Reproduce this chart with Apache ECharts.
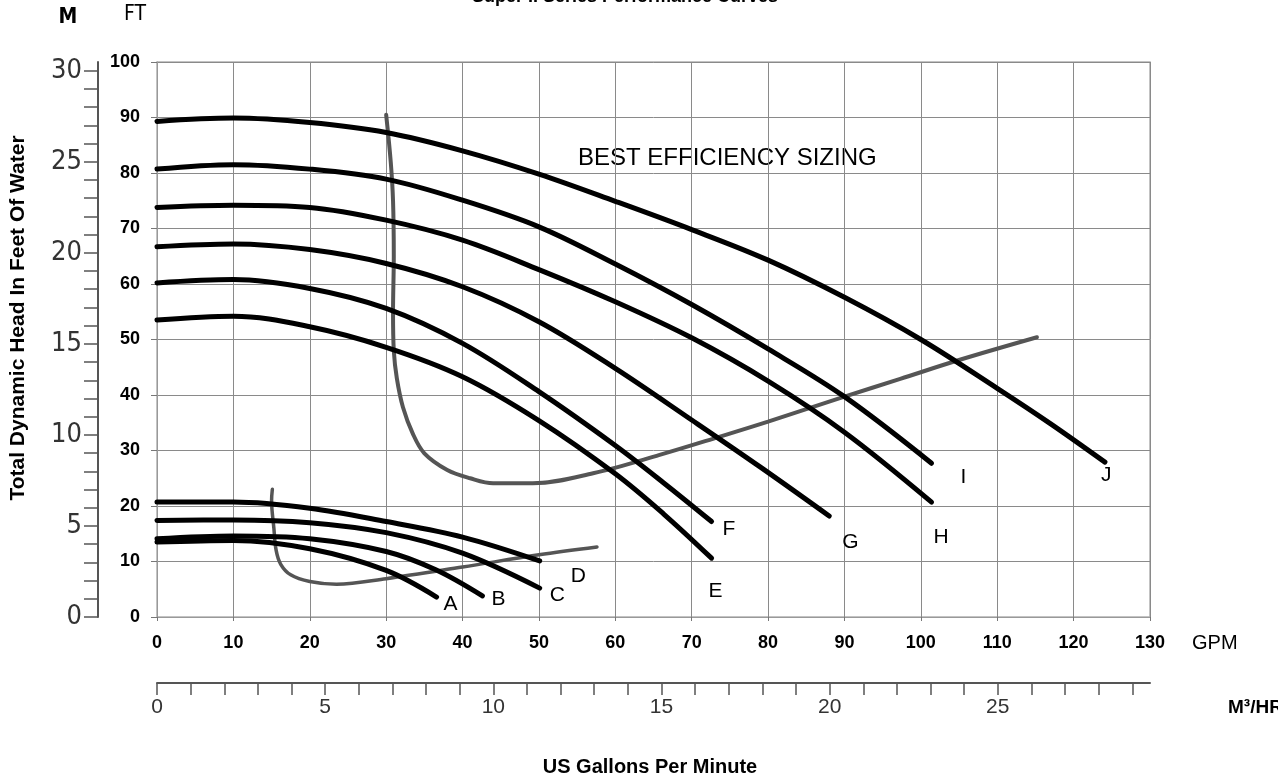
<!DOCTYPE html>
<html>
<head>
<meta charset="utf-8">
<script src="https://cdn.jsdelivr.net/npm/echarts@6/dist/echarts.min.js"></script>
<style>
html,body{margin:0;padding:0;background:#fff;}
#chart{width:1278px;height:782px;}
</style>
</head>
<body>
<div id="chart"></div>
<script>
// ---- data (GPM, feet of head) ----
const curveA = [[0,13.5],[10,13.8],[20,12.3],[30,8.4],[36.6,3.6]];
const curveB = [[0,14.1],[10,14.6],[20,14.1],[30,11.8],[36.5,8.5],[42.6,3.8]];
const curveC = [[0,17.4],[10,17.5],[20,17.0],[30,15.2],[40,11.5],[50.1,5.2]];
const curveD = [[0,20.7],[10,20.7],[20,19.6],[30,17.2],[40,14.4],[50.1,10.1]];
const curveE = [[0,53.5],[10,54.2],[20,52.3],[30,48.6],[40,43.3],[50,35.4],[60,25.8],[66.3,18.6],[72.6,10.6]];
const curveF = [[0,60.2],[10,60.8],[20,59.2],[30,55.6],[40,49.3],[50,40.6],[60,30.9],[66.3,24.2],[72.6,17.2]];
const curveG = [[0,66.7],[10,67.2],[20,66.2],[30,63.7],[40,59.5],[50,53.2],[60,44.8],[70,35.5],[79,27.0],[88,18.2]];
const curveH = [[0,73.8],[10,74.2],[20,73.8],[30,71.5],[40,67.9],[50,62.6],[60,56.8],[70,50.3],[80,42.5],[90,33.3],[101.4,20.7]];
const curveI = [[0,80.7],[10,81.5],[20,80.7],[30,78.9],[40,75.1],[50,70.3],[60,63.6],[70,56.3],[80,48.3],[90,39.7],[101.4,27.7]];
const curveJ = [[0,89.3],[10,89.9],[20,89.1],[30,87.3],[40,84.0],[50,79.8],[60,74.9],[70,69.8],[80,64.3],[90,57.6],[100,50.0],[110,41.2],[117,34.8],[124.1,27.9]];
const curveNames = ['A','B','C','D','E','F','G','H','I','J'];
const curves = [curveA,curveB,curveC,curveD,curveE,curveF,curveG,curveH,curveI,curveJ];

const effSmall = [[15.1,23.0],[15.0,21.0],[15.3,16.0],[15.6,12.0],[16.2,9.5],[17.5,7.6],[20,6.4],[23.5,5.9],[30,6.9],[40,9.0],[50,11.2],[57.6,12.6]];
const effLarge = [[30.0,90.5],[30.6,82],[30.9,75],[31.0,65],[30.9,55],[31.0,48],[31.4,43],[32.2,37.8],[33.5,33],[35.0,29.5],[38.0,26.5],[41,25],[44.0,24.1],[49.2,24.1],[57.1,25.9],[65.8,29.2],[73.7,32.5],[80,35.2],[90,39.7],[97.3,42.9],[105,46.3],[115.2,50.4]];

const gpmMax = 130, gpmStep = 10;
const ftMax = 100, ftStep = 10;
const GPM_PER_M3H = 4.4029;   // 1 m3/h in US gpm
const FT_PER_M = 3.28084;
const m3hMax = gpmMax / GPM_PER_M3H;
const mMax = ftMax / FT_PER_M;
const m3hTicks = Array.from({length: Math.floor(m3hMax) + 1}, (_, i) => i);
const m3hLabels = m3hTicks.filter(v => v % 5 === 0);
const mTicks = Array.from({length: Math.floor(mMax) + 1}, (_, i) => i);
const mLabels = mTicks.filter(v => v % 5 === 0);

const titleText = 'Super II Series Performance Curves';
const yTitle = 'Total Dynamic Head In Feet Of Water';
const xTitle = 'US Gallons Per Minute';
const noteText = 'BEST EFFICIENCY SIZING';

// ---- label styling (positions are styling, not data) ----
const labelOffsets = {A:[-1,7],B:[1,3],C:[2,7],D:[23,15],E:[-11,33],F:[3,8],G:[5,26],H:[-6,35],I:[21,14],J:[-12,13]};

const SANS = '"Liberation Sans", Arial, Helvetica, sans-serif';
const NARROW = '"Liberation Sans Narrow", "Arial Narrow", "DejaVu Sans Condensed", "Liberation Sans", sans-serif';

const chart = echarts.init(document.getElementById('chart'), null, {renderer:'canvas'});

const series = curves.map((d, i) => ({
  type: 'line',
  name: curveNames[i],
  data: d,
  xAxisIndex: 0, yAxisIndex: 0,
  smooth: 0.35,
  symbol: 'none',
  lineStyle: {color: '#000', width: 5, cap: 'round'},
  endLabel: {
    show: true,
    formatter: curveNames[i],
    offset: labelOffsets[curveNames[i]],
    color: '#000',
    fontSize: 21,
    fontFamily: SANS
  },
  z: 3
}));
series.push({
  type: 'line', name: 'effSmall', data: effSmall, smooth: 0.35, symbol: 'none',
  xAxisIndex: 0, yAxisIndex: 0,
  lineStyle: {color: '#555', width: 3.5, cap: 'round'}, z: 2
});
series.push({
  type: 'line', name: 'effLarge', data: effLarge, smooth: 0.35, symbol: 'none',
  xAxisIndex: 0, yAxisIndex: 0,
  lineStyle: {color: '#555', width: 4, cap: 'round'}, z: 2
});

const option = {
  animation: false,
  backgroundColor: '#fff',
  grid: {left: 157, top: 62, width: 993, height: 555, show: true, borderColor: '#b0b0b0', borderWidth: 1.5, containLabel: false},
  xAxis: [
    {
      type: 'value', min: 0, max: gpmMax, interval: gpmStep, position: 'bottom',
      axisLine: {show: true, lineStyle: {color: '#999', width: 1}},
      axisTick: {show: true, length: 4, lineStyle: {color: '#777'}},
      axisLabel: {margin: 17, color: '#000', fontSize: 18, fontWeight: 'bold', fontFamily: SANS},
      splitLine: {show: true, lineStyle: {color: '#8a8a8a', width: 1}}
    },
    {
      type: 'value', min: 0, max: m3hMax, position: 'bottom', offset: 66,
      axisLine: {show: true, onZero: false, lineStyle: {color: '#555', width: 2}},
      axisTick: {show: true, length: 12, customValues: m3hTicks, lineStyle: {color: '#555', width: 1.5}},
      axisLabel: {margin: 14, color: '#333', fontSize: 21, fontFamily: SANS, customValues: m3hLabels},
      splitLine: {show: false}
    }
  ],
  yAxis: [
    {
      type: 'value', min: 0, max: ftMax, interval: ftStep, position: 'left',
      axisLine: {show: true, lineStyle: {color: '#999', width: 1}},
      axisTick: {show: true, length: 6, lineStyle: {color: '#777'}},
      axisLabel: {margin: 17, color: '#000', fontSize: 18, fontWeight: 'bold', fontFamily: SANS},
      splitLine: {show: true, lineStyle: {color: '#8a8a8a', width: 1}}
    },
    {
      type: 'value', min: 0, max: mMax, position: 'left', offset: 59,
      axisLine: {show: true, onZero: false, lineStyle: {color: '#555', width: 2}},
      axisTick: {show: true, length: 14, customValues: mTicks, lineStyle: {color: '#555', width: 1.5}},
      axisLabel: {margin: 16, color: '#333', fontSize: 27, fontFamily: NARROW, customValues: mLabels},
      splitLine: {show: false}
    }
  ],
  series: series,
  graphic: [
    {type: 'text', x: 625, y: -3, style: {text: titleText, font: 'bold 18px ' + SANS, fill: '#000', textAlign: 'center', textVerticalAlign: 'middle'}},
    {type: 'text', x: 68, y: 18, style: {text: 'M', font: 'bold 21px ' + NARROW, fill: '#000', textAlign: 'center', textVerticalAlign: 'middle'}},
    {type: 'text', x: 135, y: 15, style: {text: 'FT', font: '21px ' + NARROW, fill: '#000', textAlign: 'center', textVerticalAlign: 'middle'}},
    {type: 'text', x: 18, y: 318, rotation: Math.PI / 2, style: {text: yTitle, font: 'bold 21px ' + SANS, fill: '#000', textAlign: 'center', textVerticalAlign: 'middle'}},
    {type: 'text', x: 1192, y: 643, style: {text: 'GPM', font: '20px ' + SANS, fill: '#000', textAlign: 'left', textVerticalAlign: 'middle'}},
    {type: 'text', x: 1228, y: 708, style: {text: 'M³/HR', font: 'bold 19px ' + SANS, fill: '#000', textAlign: 'left', textVerticalAlign: 'middle'}},
    {type: 'text', x: 650, y: 767, style: {text: xTitle, font: 'bold 20px ' + SANS, fill: '#000', textAlign: 'center', textVerticalAlign: 'middle'}},
    {type: 'text', x: 578, y: 158, style: {text: noteText, font: '24px ' + SANS, fill: '#000', textAlign: 'left', textVerticalAlign: 'middle'}}
  ]
};
chart.setOption(option);
</script>
</body>
</html>
